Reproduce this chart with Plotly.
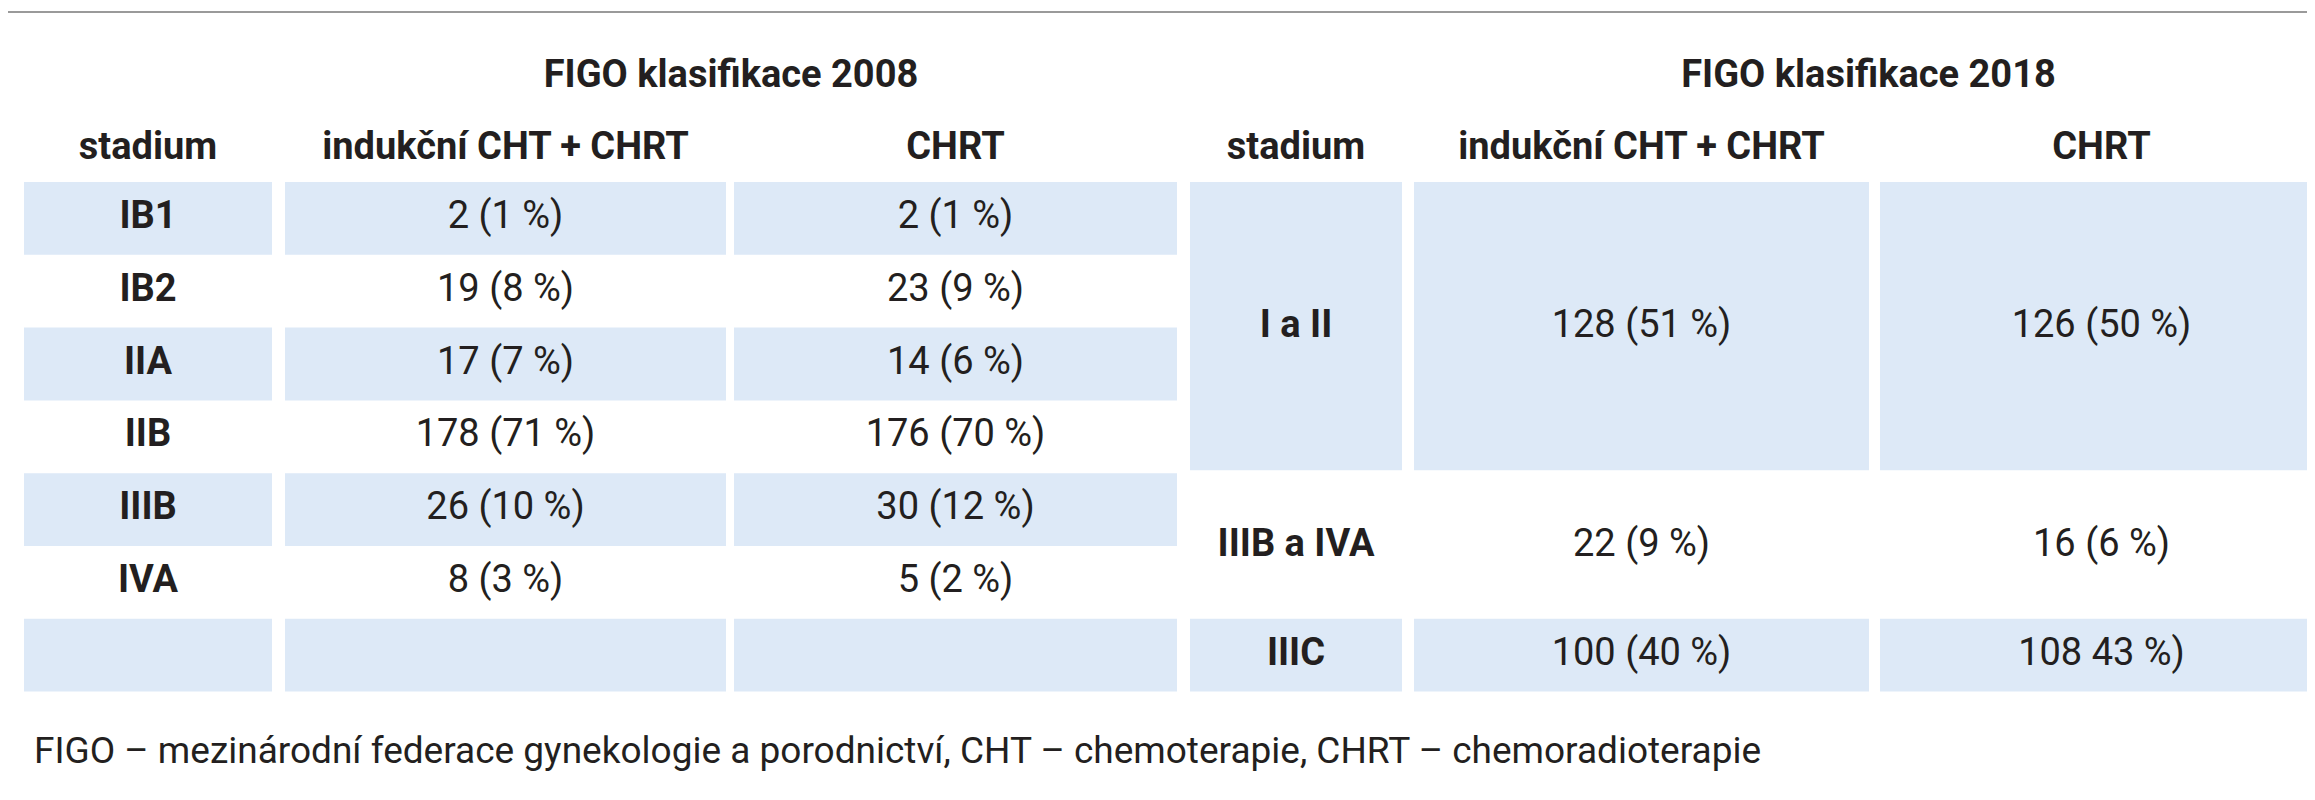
import plotly.graph_objects as go

# data
stages_2008 = ["IB1", "IB2", "IIA", "IIB", "IIIB", "IVA", ""]
induction_2008 = ["2 (1 %)", "19 (8 %)", "17 (7 %)", "178 (71 %)", "26 (10 %)", "8 (3 %)", ""]
chrt_2008 = ["2 (1 %)", "23 (9 %)", "14 (6 %)", "176 (70 %)", "30 (12 %)", "5 (2 %)", ""]
stages_2018 = ["I a II", "IIIB a IVA", "IIIC"]
induction_2018 = ["128 (51 %)", "22 (9 %)", "100 (40 %)"]
chrt_2018 = ["126 (50 %)", "16 (6 %)", "108 43 %)"]
row_span_2018 = [4, 2, 1]
headers = ["stadium", "indukční CHT + CHRT", "CHRT"]
titles = ["FIGO klasifikace 2008", "FIGO klasifikace 2018"]
footnote = "FIGO – mezinárodní federace gynekologie a porodnictví, CHT – chemoterapie, CHRT – chemoradioterapie"

W, H = 2315, 800
FILL = "#dde9f7"
INK = "#231f20"
FONT = "Roboto, sans-serif"
TOP, ROW_H = 174, 72.8
cols_2008 = [(16, 264), (277, 718), (726, 1169)]
cols_2018 = [(1182, 1394), (1406, 1861), (1872, 2315)]

fig = go.Figure()
shapes = []
tx, ty, tt, tb = [], [], [], []

def add_text(x, y, s, bold=False):
    tx.append(x); ty.append(y); tt.append(s); tb.append(bold)

# 2008 table
for i, (st, a, b) in enumerate(zip(stages_2008, induction_2008, chrt_2008)):
    y0, y1 = TOP + i * ROW_H, TOP + (i + 1) * ROW_H
    if i % 2 == 0:
        for c0, c1 in cols_2008:
            shapes.append(dict(type="rect", x0=c0, x1=c1, y0=y0, y1=y1,
                               fillcolor=FILL, line_width=0, layer="below"))
    yc = (y0 + y1) / 2
    for (c0, c1), s, bold in zip(cols_2008, [st, a, b], [True, False, False]):
        if s:
            add_text((c0 + c1) / 2, yc, s, bold)

# 2018 table
r = 0
for i, (st, a, b) in enumerate(zip(stages_2018, induction_2018, chrt_2018)):
    y0, y1 = TOP + r * ROW_H, TOP + (r + row_span_2018[i]) * ROW_H
    r += row_span_2018[i]
    if i % 2 == 0:
        for c0, c1 in cols_2018:
            shapes.append(dict(type="rect", x0=c0, x1=c1, y0=y0, y1=y1 - (3 if i == 0 else 0),
                               fillcolor=FILL, line_width=0, layer="below"))
    yc = (y0 + y1) / 2
    for (c0, c1), s, bold in zip(cols_2018, [st, a, b], [True, False, False]):
        add_text((c0 + c1) / 2, yc, s, bold)

# headers and titles
for cols, title in zip([cols_2008, cols_2018], titles):
    for (c0, c1), h in zip(cols, headers):
        add_text((c0 + c1) / 2, 141, h, True)
    add_text((cols[1][0] + cols[2][1]) / 2, 69, title, True)

shapes.append(dict(type="line", x0=0, x1=W, y0=4, y1=4, line=dict(color="#9a9a9a", width=2)))

fig.add_trace(go.Scatter(
    x=tx, y=ty, mode="text",
    text=[f"<b>{s}</b>" if b else s for s, b in zip(tt, tb)],
    textfont=dict(family=FONT, size=38, color=INK),
    hoverinfo="skip", showlegend=False))

fig.add_annotation(x=24, y=742, xref="x", yref="y", text=footnote, showarrow=False,
                   xanchor="left", yanchor="middle",
                   font=dict(family=FONT, size=37, color=INK))

fig.update_layout(width=W, height=H, margin=dict(l=0, r=0, t=0, b=0),
                  plot_bgcolor="white", paper_bgcolor="white", shapes=shapes)
fig.update_xaxes(range=[0, W], visible=False, fixedrange=True)
fig.update_yaxes(range=[H, 0], visible=False, fixedrange=True)
fig.write_html("out.html")
